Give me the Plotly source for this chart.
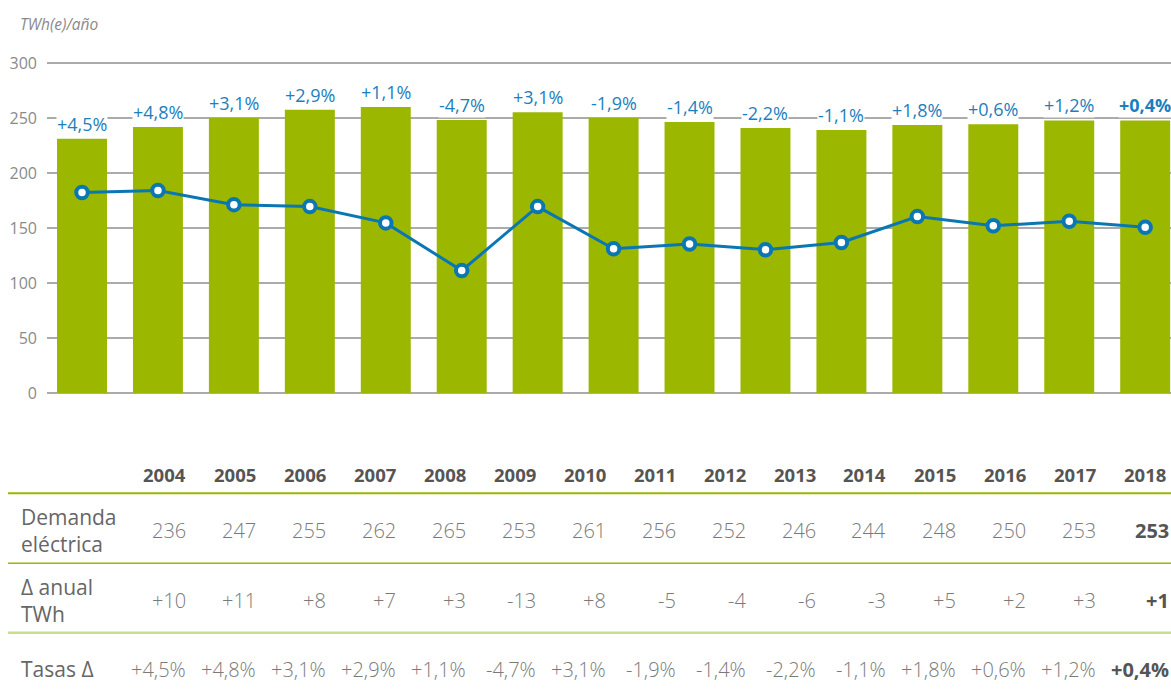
import plotly.graph_objects as go

# ---------------- data ----------------
years = [2004, 2005, 2006, 2007, 2008, 2009, 2010, 2011, 2012, 2013, 2014, 2015, 2016, 2017, 2018]
bar_values = [231.3, 241.8, 250.0, 257.5, 260.0, 248.2, 255.4, 250.0, 246.4, 241.0, 239.1, 243.6, 244.5, 247.9, 247.9]
line_values = [182.4, 184.2, 171.3, 169.5, 154.7, 111.3, 169.5, 131.2, 135.4, 130.3, 136.9, 160.4, 152.0, 156.2, 150.7]
rate_labels = ["+4,5%", "+4,8%", "+3,1%", "+2,9%", "+1,1%", "-4,7%", "+3,1%", "-1,9%", "-1,4%",
               "-2,2%", "-1,1%", "+1,8%", "+0,6%", "+1,2%", "+0,4%"]
demanda = [236, 247, 255, 262, 265, 253, 261, 256, 252, 246, 244, 248, 250, 253, 253]
delta_twh = ["+10", "+11", "+8", "+7", "+3", "-13", "+8", "-5", "-4", "-6", "-3", "+5", "+2", "+3", "+1"]
row_labels = ["Demanda<br>eléctrica", "Δ anual<br>TWh", "Tasas Δ"]
y_ticks = [0, 50, 100, 150, 200, 250, 300]
y_title = "TWh(e)/año"

# ---------------- style ----------------
W, H = 1171, 693
L, R, T, B = 47, 1171, 62, 393
GREEN = "#9bb700"
LIGHT_GREEN = "#cadd8f"
BLUE_LINE = "#0a77b3"
BLUE_TXT = "#1b7fbd"
GRID = "#ababab"
FONT = "Open Sans"


def px(x):
    return (x - L) / (R - L)


def py(y):
    return (B - y) / (B - T)


fig = go.Figure()
fig.add_trace(go.Bar(x=years, y=bar_values, marker=dict(color=GREEN, line=dict(width=0)),
                     width=0.658, name="Demanda", hoverinfo="x+y"))
fig.add_trace(go.Scatter(x=years, y=line_values, mode="lines+markers", name="Serie",
                         line=dict(color=BLUE_LINE, width=3),
                         marker=dict(symbol="circle", size=11.5, color="white",
                                     line=dict(color=BLUE_LINE, width=4))))

annotations = []
# labels above bars
last = len(years) - 1
for i, (yr, v, lab) in enumerate(zip(years, bar_values, rate_labels)):
    annotations.append(dict(x=yr, y=v, xref="x", yref="y", text=lab, showarrow=False,
                            yanchor="middle", xanchor="center", yshift=15,
                            bgcolor="white", borderpad=0,
                            font=dict(family=FONT, size=18, color=BLUE_TXT,
                                      weight=700 if i == last else 400)))

# y-axis title
annotations.append(dict(x=px(18), y=py(24), xref="paper", yref="paper", text=y_title,
                        showarrow=False, xanchor="left", yanchor="middle",
                        font=dict(family=FONT, size=15.5, color="#8a8a8a", style="italic")))

# table
col_right = [188.3 + 70 * k for k in range(len(years))]
row_y = [530.5, 600, 669.3]
header_y = 474.3
for k, yr in enumerate(years):
    annotations.append(dict(x=px(col_right[k]), y=py(header_y), xref="paper", yref="paper",
                            text=str(yr), showarrow=False, xanchor="right", yanchor="middle",
                            font=dict(family=FONT, size=18.5, color="#555555", weight=700)))
    vals = [str(demanda[k]), delta_twh[k], rate_labels[k]]
    for r, val in enumerate(vals):
        bold = (k == last)
        annotations.append(dict(x=px(col_right[k] + (3 if bold else 0)), y=py(row_y[r]),
                                xref="paper", yref="paper",
                                text=val, showarrow=False, xanchor="right", yanchor="middle",
                                font=dict(family=FONT, size=20,
                                          color="#555555" if bold else "#7a7a7a",
                                          weight=700 if bold else 300)))
for r, lab in enumerate(row_labels):
    annotations.append(dict(x=px(19), y=py(row_y[r]), xref="paper", yref="paper",
                            text=lab, showarrow=False, xanchor="left", yanchor="middle",
                            align="left",
                            font=dict(family=FONT, size=21, color="#666666")))

shapes = [
    dict(type="line", xref="paper", yref="paper", x0=px(8), x1=px(1171), y0=py(493.3), y1=py(493.3),
         line=dict(color=GREEN, width=2)),
    dict(type="line", xref="paper", yref="paper", x0=px(8), x1=px(1171), y0=py(563.3), y1=py(563.3),
         line=dict(color=GREEN, width=1.5)),
    dict(type="line", xref="paper", yref="paper", x0=px(8), x1=px(1171), y0=py(632.7), y1=py(632.7),
         line=dict(color=LIGHT_GREEN, width=2.5)),
]

fig.update_layout(
    width=W, height=H,
    margin=dict(l=L, r=W - R, t=T, b=H - B, pad=0),
    paper_bgcolor="white", plot_bgcolor="white",
    showlegend=False,
    bargap=0.34,
    font=dict(family=FONT),
    annotations=annotations,
    shapes=shapes,
    xaxis=dict(range=[years[0] - 0.461, years[0] + 14.34], showticklabels=False, showgrid=False,
               zeroline=False, showline=False, ticks="", automargin=False, fixedrange=True),
    yaxis=dict(range=[0, 301], tickvals=y_ticks, showgrid=True, gridcolor=GRID, gridwidth=1.5,
               zeroline=True, zerolinecolor=GRID, zerolinewidth=1.5, showline=False,
               ticks="", ticklabelstandoff=9, automargin=False,
               tickfont=dict(family=FONT, size=16, color="#8a8a8a")),
)

fig.write_html("out.html", config={"displayModeBar": False},
               post_script="document.body.style.margin='0';document.body.style.padding='0';")
